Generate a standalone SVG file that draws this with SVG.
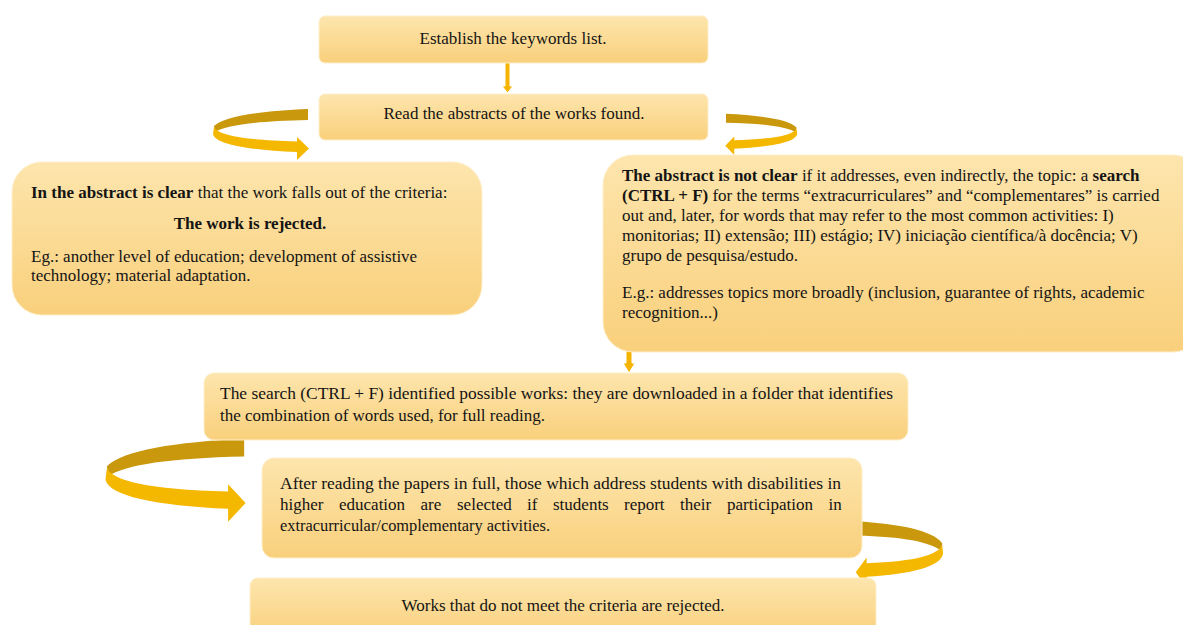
<svg xmlns="http://www.w3.org/2000/svg" width="1183" height="625" viewBox="0 0 1183 625">
<defs>
<linearGradient id="boxg" x1="0" y1="0" x2="0" y2="1">
<stop offset="0" stop-color="#FDE5AD"/>
<stop offset="1" stop-color="#F9D07C"/>
</linearGradient>
<g id="curl">
<path class="dark" d="M96,1 C50,3 12,8 2,18 L3,24 C15,17 45,13 96,12 Z"/>
<path class="light" d="M2,19 C6,27 30,32 85,33.5 L85,29 L97,40.5 L85,52 L85,44 C35,42 3,36 1,26 Z"/>
</g>
</defs>
<style>
.box{fill:url(#boxg);stroke:#FEEFCB;stroke-width:1}
.dark{fill:#C9980C}
.light{fill:#F5B800}
.down{fill:#F5B400;stroke:#FFFFFF;stroke-width:1}
text{font-family:"Liberation Serif","Times New Roman",serif;font-size:17px;fill:#141414}
.s{font-size:16px}
.b{font-weight:bold}
.c{text-anchor:middle}
</style>
<rect width="1183" height="625" fill="#FFFFFF"/>
<g id="connectors">
<path class="down" d="M505,62 L510,62 L510,86 L513,86 L507.5,93 L502,86 L505,86 Z"/>
<path class="down" d="M626,343 L632,343 L632,363 L635,363 L629,373 L623,363 L626,363 Z"/>
<use href="#curl" transform="translate(212,108)"/>
<use href="#curl" transform="translate(798,113) scale(-0.75,0.81)"/>
<use href="#curl" transform="translate(104,437) scale(1.46,1.63)"/>
<use href="#curl" transform="translate(944,520) scale(-0.91,1.29)"/>
</g>
<g id="n1">
<rect class="box" x="319" y="16" width="389" height="47" rx="6"/>
<text class="c" x="513" y="44">Establish the keywords list.</text>
</g>
<g id="n2">
<rect class="box" x="319" y="94" width="389" height="46" rx="6"/>
<text class="c" x="514" y="119">Read the abstracts of the works found.</text>
</g>
<g id="n3">
<rect class="box" x="12" y="162" width="470" height="153" rx="30"/>
<text x="31" y="198"><tspan class="b">In the abstract is clear</tspan> that the work falls out of the criteria:</text>
<text class="c b" x="250" y="229">The work is rejected.</text>
<text x="31" y="262">Eg.: another level of education; development of assistive</text>
<text x="31" y="281">technology; material adaptation.</text>
</g>
<g id="n4">
<rect class="box" x="603" y="155" width="600" height="197" rx="30"/>
<text x="622" y="181"><tspan class="b">The abstract is not clear</tspan> if it addresses, even indirectly, the topic: a <tspan class="b">search</tspan></text>
<text x="622" y="201"><tspan class="b">(CTRL + F)</tspan> for the terms “extracurriculares” and “complementares” is carried</text>
<text x="622" y="221">out and, later, for words that may refer to the most common activities: I)</text>
<text x="622" y="241">monitorias; II) extensão; III) estágio; IV) iniciação científica/à docência; V)</text>
<text x="622" y="261">grupo de pesquisa/estudo.</text>
<text x="622" y="298">E.g.: addresses topics more broadly (inclusion, guarantee of rights, academic</text>
<text x="622" y="318">recognition...)</text>
</g>
<g id="n5">
<rect class="box" x="204" y="373" width="704" height="67" rx="10"/>
<text class="s" x="220" y="399" textLength="673" lengthAdjust="spacingAndGlyphs">The search (CTRL + F) identified possible works: they are downloaded in a folder that identifies</text>
<text class="s" x="220" y="421" textLength="325" lengthAdjust="spacingAndGlyphs">the combination of words used, for full reading.</text>
</g>
<g id="n6">
<rect class="box" x="262" y="458" width="600" height="100" rx="12"/>
<text class="s" x="280" y="489" textLength="561" lengthAdjust="spacingAndGlyphs">After reading the papers in full, those which address students with disabilities in</text>
<text y="510"><tspan x="280">higher</tspan> <tspan x="339">education</tspan> <tspan x="420.5">are</tspan> <tspan x="457">selected</tspan> <tspan x="527">if</tspan> <tspan x="553">students</tspan> <tspan x="624">report</tspan> <tspan x="680">their</tspan> <tspan x="727">participation</tspan> <tspan x="828.5">in</tspan></text>
<text class="s" x="280" y="531" textLength="270" lengthAdjust="spacingAndGlyphs">extracurricular/complementary activities.</text>
</g>
<g id="n7">
<rect class="box" x="250" y="578" width="626" height="60" rx="8"/>
<text class="c" x="563" y="611">Works that do not meet the criteria are rejected.</text>
</g>
</svg>
